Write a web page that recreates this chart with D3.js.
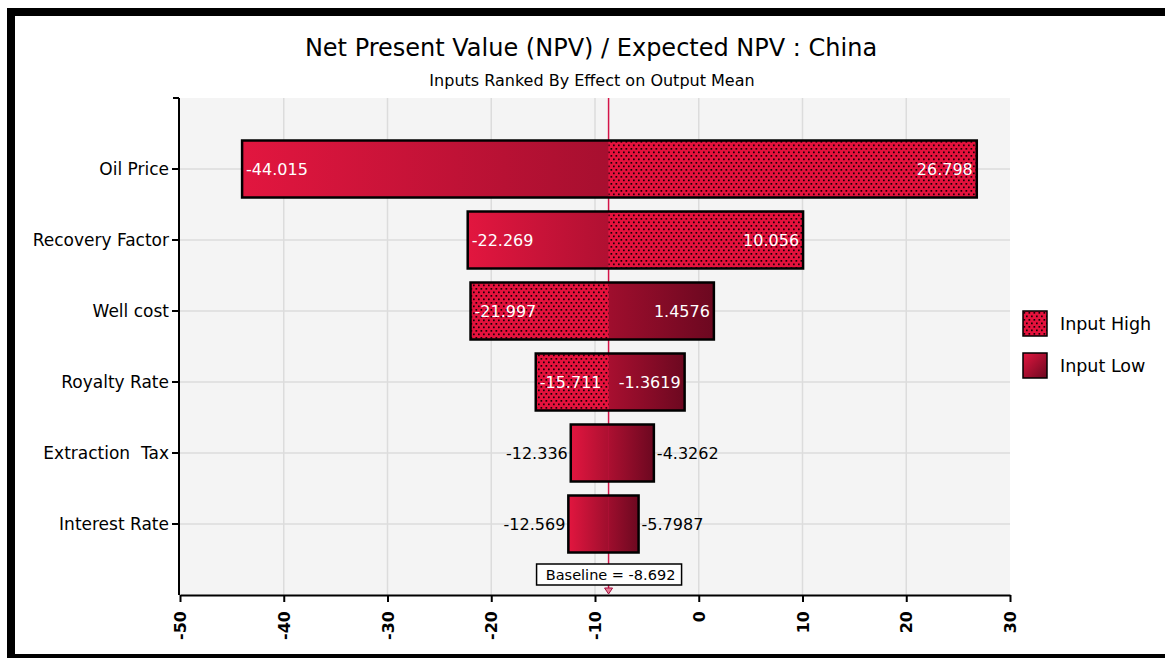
<!DOCTYPE html>
<meta charset="utf-8">
<head>
    <script src="https://d3js.org/d3.v7.min.js"></script>
    <style>
    body { margin: 0; background: #fff; }
    svg { display: block; font-family: "DejaVu Sans", Verdana, sans-serif; }
    .grid line { stroke: #dcdcdc; stroke-width: 1.5; }
    .axis path, .axis line { stroke: #000; stroke-width: 2; }
    .axis text { fill: #000; }
    </style>
</head>
<body>
<script>

// tornado data
var categories = ["Oil Price", "Recovery Factor", "Well cost", "Royalty Rate", "Extraction  Tax", "Interest Rate"];
var lowValues  = [-44.015, -22.269, 1.4576, -1.3619, -12.336, -12.569];
var highValues = [26.798, 10.056, -21.997, -15.711, -4.3262, -5.7987];
var baseline = -8.692;
var xTicks = [-50, -40, -30, -20, -10, 0, 10, 20, 30];
var legendLabels = ["Input High", "Input Low"];

var W = 1165, H = 658;
var pLeft = 180, pRight = 1010, pTop = 98, pBottom = 595;

var svg = d3.select("body").append("svg")
    .attr("width", W)
    .attr("height", H);

var defs = svg.append("defs");

// dotted fill for "Input High"
var pat = defs.append("pattern")
    .attr("id", "dots")
    .attr("patternUnits", "userSpaceOnUse")
    .attr("width", 5).attr("height", 7);
pat.append("rect").attr("width", 5).attr("height", 7).attr("fill", "#e6123d");
pat.append("rect").attr("x", 0.5).attr("y", 1).attr("width", 1.7).attr("height", 1.7).attr("fill", "#1a0006");
pat.append("rect").attr("x", 3).attr("y", 4.5).attr("width", 1.7).attr("height", 1.7).attr("fill", "#1a0006");

var x = d3.scaleLinear().domain([-50, 30]).range([pLeft, pRight]);
var y = d3.scaleLinear().domain([0, 7]).range([pTop, pBottom]);
var barH = 57;

// plot background
svg.append("rect")
    .attr("x", pLeft).attr("y", pTop)
    .attr("width", pRight - pLeft).attr("height", pBottom - pTop)
    .attr("fill", "#f4f4f4");

// gridlines
svg.append("g").attr("class", "grid")
  .selectAll("line").data(xTicks.slice(1, -1)).enter().append("line")
    .attr("x1", d => x(d)).attr("x2", d => x(d))
    .attr("y1", pTop).attr("y2", pBottom);
svg.append("g").attr("class", "grid")
  .selectAll("line").data(categories).enter().append("line")
    .attr("x1", pLeft).attr("x2", pRight)
    .attr("y1", (d, i) => y(i + 1)).attr("y2", (d, i) => y(i + 1));

// title
svg.append("text")
    .attr("x", 591).attr("y", 56)
    .attr("text-anchor", "middle")
    .style("font-size", "24px")
    .text("Net Present Value (NPV) / Expected NPV : China");
svg.append("text")
    .attr("x", 592).attr("y", 86)
    .attr("text-anchor", "middle")
    .style("font-size", "16px")
    .text("Inputs Ranked By Effect on Output Mean");

// baseline line behind bars
svg.append("line")
    .attr("x1", x(baseline)).attr("x2", x(baseline))
    .attr("y1", pTop).attr("y2", pBottom - 6)
    .attr("stroke", "#d41448").attr("stroke-width", 1.5);

var solidRows = new Set(["Extraction  Tax", "Interest Rate"]);

var rows = categories.map(function(c, i) {
  return {name: c, i: i, low: lowValues[i], high: highValues[i]};
});

rows.forEach(function(r) {
  var lo = Math.min(r.low, r.high), hi = Math.max(r.low, r.high);
  var gid = "grad" + r.i;
  var g = defs.append("linearGradient")
      .attr("id", gid)
      .attr("gradientUnits", "userSpaceOnUse")
      .attr("x1", x(lo)).attr("x2", x(hi)).attr("y1", 0).attr("y2", 0);
  g.append("stop").attr("offset", "0%").attr("stop-color", "#e2163f");
  g.append("stop").attr("offset", "100%").attr("stop-color", "#6c0820");

  var cy = y(r.i + 1);
  var segs = [
    {v: r.low, fill: "url(#" + gid + ")"},
    {v: r.high, fill: solidRows.has(r.name) ? "url(#" + gid + ")" : "url(#dots)"}
  ];
  segs.forEach(function(s) {
    var x0 = Math.min(x(s.v), x(baseline)), x1 = Math.max(x(s.v), x(baseline));
    svg.append("rect")
        .attr("x", x0).attr("y", cy - barH / 2)
        .attr("width", x1 - x0).attr("height", barH)
        .attr("fill", s.fill);
  });
  svg.append("rect")
      .attr("x", x(lo)).attr("y", cy - barH / 2)
      .attr("width", x(hi) - x(lo)).attr("height", barH)
      .attr("fill", "none").attr("stroke", "#000").attr("stroke-width", 2.5);

  // value labels
  [r.low, r.high].forEach(function(v) {
    var label = String(v);
    var segW = Math.abs(x(v) - x(baseline));
    var isLeft = v < baseline;
    var inside = segW > label.length * 9 + 8;
    var t = svg.append("text")
        .attr("y", cy + 6)
        .style("font-size", "16px")
        .text(label);
    if (inside) {
      t.attr("fill", "#fff")
       .attr("x", isLeft ? x(v) + 4 : x(v) - 4)
       .attr("text-anchor", isLeft ? "start" : "end");
    } else {
      t.attr("fill", "#000")
       .attr("x", isLeft ? x(v) - 3 : x(v) + 3)
       .attr("text-anchor", isLeft ? "end" : "start");
    }
  });
});

// y axis
svg.append("line")
    .attr("x1", pLeft - 1).attr("x2", pLeft - 1)
    .attr("y1", pTop).attr("y2", pBottom)
    .attr("stroke", "#000").attr("stroke-width", 2);
svg.append("line")
    .attr("x1", pLeft - 7).attr("x2", pLeft - 1)
    .attr("y1", pTop).attr("y2", pTop)
    .attr("stroke", "#000").attr("stroke-width", 2);
var yl = svg.append("g").selectAll("g").data(categories).enter().append("g");
yl.append("line")
    .attr("x1", pLeft - 8).attr("x2", pLeft - 1)
    .attr("y1", (d, i) => y(i + 1)).attr("y2", (d, i) => y(i + 1))
    .attr("stroke", "#000").attr("stroke-width", 2);
yl.append("text")
    .attr("x", pLeft - 11)
    .attr("y", (d, i) => y(i + 1) + 6)
    .attr("text-anchor", "end")
    .style("font-size", "17px")
    .style("white-space", "pre")
    .text(d => d);

// x axis
var xAxis = svg.append("g")
    .attr("class", "axis")
    .attr("transform", "translate(0," + pBottom + ")")
    .call(d3.axisBottom(x).tickValues(xTicks).tickSize(7).tickSizeOuter(0).tickFormat(d => String(d)));
xAxis.selectAll("text")
    .attr("transform", "rotate(-90)")
    .attr("x", -16).attr("y", 0).attr("dy", "0.35em")
    .style("text-anchor", "end")
    .style("font-size", "16px")
    .style("font-weight", "bold")
    .style("font-family", "DejaVu Sans, sans-serif");

// baseline marker + label
var bx = x(baseline);
svg.append("path")
    .attr("d", "M" + (bx - 4) + "," + (pBottom - 7) + "L" + (bx + 4) + "," + (pBottom - 7) + "L" + bx + "," + (pBottom - 1) + "Z")
    .attr("fill", "#e87890").attr("stroke", "#a01040").attr("stroke-width", 1);
svg.append("rect")
    .attr("x", bx - 72).attr("y", 564)
    .attr("width", 145).attr("height", 21)
    .attr("fill", "#fff").attr("stroke", "#000").attr("stroke-width", 1.5);
svg.append("text")
    .attr("x", bx + 2).attr("y", 580)
    .attr("text-anchor", "middle")
    .style("font-size", "14.5px")
    .text("Baseline = " + baseline);

// legend
var lg = svg.append("g").selectAll("g").data(legendLabels).enter().append("g")
    .attr("transform", (d, i) => "translate(1023," + (311 + i * 42) + ")");
var lgGrad = defs.append("linearGradient").attr("id", "lgGrad")
    .attr("x1", "0%").attr("y1", "0%").attr("x2", "100%").attr("y2", "100%");
lgGrad.append("stop").attr("offset", "0%").attr("stop-color", "#e2163f");
lgGrad.append("stop").attr("offset", "100%").attr("stop-color", "#6c0820");
lg.append("rect")
    .attr("width", 24).attr("height", 25)
    .attr("fill", (d, i) => i === 0 ? "url(#dots)" : "url(#lgGrad)")
    .attr("stroke", "#000").attr("stroke-width", 1.5);
lg.append("text")
    .attr("x", 37).attr("y", 19)
    .style("font-size", "17.5px")
    .text(d => d);

// outer frame
svg.append("rect")
    .attr("x", 11).attr("y", 12)
    .attr("width", 1200).attr("height", 646)
    .attr("fill", "none").attr("stroke", "#000").attr("stroke-width", 8);

</script>
</body>
